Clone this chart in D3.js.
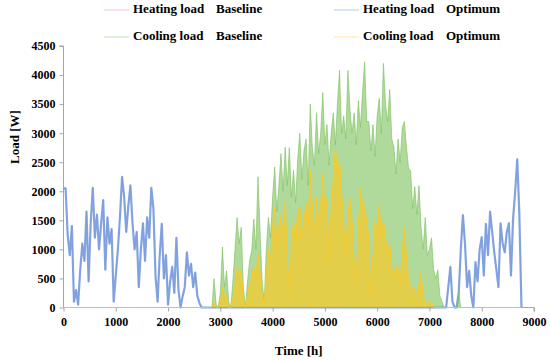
<!DOCTYPE html>
<html>
<head>
<meta charset="utf-8">
<script src="https://cdn.jsdelivr.net/npm/d3@7"></script>
<style>
  body { margin: 0; background: #fff; }
  svg text { font-family: "Liberation Serif", "Times New Roman", serif; font-weight: bold; fill: #000; }
</style>
</head>
<body>
<div id="chart"></div>
<script>
// hourly loads, one value every 40 h
const STEP = 40;

// heating, winter start (from hour 0) and winter end (from hour 7320)
const heatStartA = 0;
const heatOptA = [2050, 2050, 1250, 900, 1400, 100, 300, 50, 650, 1100, 800, 1650, 450, 1450, 2060, 1200,
  1600, 1000, 1450, 1850, 650, 1550, 1100, 1350, 100, 550, 1000, 1550, 2250, 1900, 1300, 1750, 2100, 1450,
  1000, 1300, 350, 1000, 1450, 800, 1550, 1200, 2060, 1700, 550, 100, 900, 1440, 500, 900, 50, 450, 700,
  250, 1200, 300, 0, 200, 350, 950, 550, 750, 350, 600, 200, 80, 0];
const heatStartB = 7320;
const heatOptB = [0, 350, 700, 100, 0, 0, 250, 1000, 1590, 1100, 350, 630, 200, 0, 780, 450, 1000, 1210,
  550, 1440, 900, 1650, 1300, 950, 650, 350, 1450, 1100, 950, 1300, 1450, 550, 1530, 2000, 2550, 1600, 0];
// baseline heating lies under the optimum curve in the figure
const heatBaseA = heatOptA.slice();
const heatBaseB = heatOptB.slice();

// cooling, from hour 2800
const coolStart = 2800;
const coolBase = [0, 0, 500, 50, 0, 250, 1040, 350, 630, 100, 0, 450, 1000, 1550, 1100, 1380, 350, 0, 450,
  800, 980, 1520, 1000, 2250, 1300, 450, 100, 1000, 1550, 1200, 1900, 2420, 1650, 2100, 2650, 2000, 2760,
  2100, 2750, 1900, 2360, 1800, 2550, 3000, 2200, 2700, 2900, 2100, 3500, 2750, 2450, 3350, 2650, 3000,
  3700, 2800, 3150, 2450, 3000, 3350, 2800, 3500, 4080, 3000, 3300, 2900, 4080, 3400, 3000, 3350, 2800,
  3560, 3100, 3700, 4230, 3200, 3200, 2700, 3150, 2600, 3300, 3600, 3000, 4200, 3500, 3200, 3750, 2900,
  2760, 2300, 2900, 2500, 3100, 3200, 2760, 2400, 2350, 1700, 2080, 1600, 2100, 1380, 1000, 1550, 900,
  1000, 1200, 650, 500, 650, 200, 100, 0, 0, 0, 0, 0, 0, 0, 270, 0];
const coolOpt = [0, 0, 100, 0, 0, 100, 350, 150, 250, 0, 0, 150, 400, 700, 500, 650, 150, 0, 200, 400, 500,
  700, 500, 930, 600, 200, 50, 600, 1000, 800, 1400, 1730, 1100, 1400, 1600, 1300, 1840, 900, 200, 1100,
  1500, 1100, 1700, 1730, 1200, 1500, 1800, 1400, 2360, 1800, 1300, 1900, 1500, 1800, 2300, 1700, 1900,
  800, 1700, 2200, 2760, 2300, 2530, 2000, 1500, 900, 1600, 1900, 1500, 800, 450, 1400, 2070, 1800, 1730,
  1500, 1200, 180, 900, 1500, 1380, 1800, 1200, 1500, 1200, 930, 1100, 700, 500, 700, 690, 400, 1000,
  1380, 900, 500, 340, 300, 350, 200, 400, 600, 200, 100, 50, 100, 80, 0];

const yearEnd = 8760;
const xTicks = [0, 1000, 2000, 3000, 4000, 5000, 6000, 7000, 8000, 9000];
const yTicks = [0, 500, 1000, 1500, 2000, 2500, 3000, 3500, 4000, 4500];

const seriesNames = ["Heating load", "Heating load", "Cooling load", "Cooling load"];
const seriesCases = ["Baseline", "Optimum", "Baseline", "Optimum"];
const seriesColors = ["#e377a8", "#5b8ad8", "#7cc05a", "#ffc81e"];

class LoadChart {
  constructor(parentElement) {
    this.parentElement = parentElement;
    this.initVis();
  }

  initVis() {
    let vis = this;

    vis.width = 550;
    vis.height = 360;

    vis.svg = d3.select("#" + vis.parentElement)
      .append("svg")
      .attr("width", vis.width)
      .attr("height", vis.height);

    vis.x = d3.scaleLinear().domain([0, 9000]).range([63.5, 534]);
    vis.y = d3.scaleLinear().domain([0, 4500]).range([307.5, 46]);

    let toPoints = (start, values) => values.map((v, i) => ({ h: start + i * STEP, v: v }));

    vis.heatBase = toPoints(heatStartA, heatBaseA).concat(toPoints(heatStartB, heatBaseB));
    vis.heatOpt = toPoints(heatStartA, heatOptA).concat(toPoints(heatStartB, heatOptB));
    vis.coolBase = [{ h: 0, v: 0 }].concat(toPoints(coolStart, coolBase), [{ h: yearEnd, v: 0 }]);
    vis.coolOpt = [{ h: 0, v: 0 }].concat(toPoints(coolStart, coolOpt), [{ h: yearEnd, v: 0 }]);

    vis.line = d3.line().x(d => vis.x(d.h)).y(d => vis.y(d.v));
    vis.area = d3.area().x(d => vis.x(d.h)).y0(vis.y(0)).y1(d => vis.y(d.v));

    vis.drawAxes();
    vis.drawSeries();
    vis.drawLegend();
  }

  drawAxes() {
    let vis = this;

    let yAxis = d3.axisLeft(vis.y).tickValues(yTicks).tickFormat(d3.format("d")).tickSize(4).tickPadding(4);
    let xAxis = d3.axisBottom(vis.x).tickValues(xTicks).tickFormat(d3.format("d")).tickSize(4).tickPadding(6);

    vis.svg.append("g")
      .attr("class", "axis")
      .attr("transform", "translate(" + vis.x(0) + ",0)")
      .call(yAxis)
      .call(g => g.select(".domain").attr("d", "M-4," + vis.y(4500) + "H0V" + vis.y(0)));

    vis.svg.append("g")
      .attr("class", "axis")
      .attr("transform", "translate(0," + vis.y(0) + ")")
      .call(xAxis)
      .call(g => g.select(".domain").attr("d", "M" + vis.x(0) + ",0H" + vis.x(9000) + "V4"));

    vis.svg.selectAll(".axis")
      .attr("font-family", "'Liberation Serif', serif")
      .attr("font-size", 12);
    vis.svg.selectAll(".axis path, .axis line").attr("stroke", "#a6a6a6");
    vis.svg.selectAll(".axis text")
      .style("font-size", "12px")
      .style("font-family", "'Liberation Serif', serif")
      .style("font-weight", "bold")
      .attr("fill", "#000");

    vis.svg.append("text")
      .attr("x", (vis.x(0) + vis.x(9000)) / 2)
      .attr("y", 352)
      .attr("text-anchor", "middle")
      .attr("dominant-baseline", "middle")
      .style("font-size", "13px")
      .text("Time [h]");

    vis.svg.append("text")
      .attr("transform", "translate(16,137) rotate(-90)")
      .attr("text-anchor", "middle")
      .attr("dominant-baseline", "middle")
      .style("font-size", "13px")
      .text("Load [W]");
  }

  drawSeries() {
    let vis = this;

    let plot = vis.svg.append("g").attr("class", "series");

    // heating (baseline sits hidden under the optimum)
    plot.append("path")
      .datum(vis.heatBase)
      .attr("d", vis.line)
      .attr("fill", "none")
      .attr("stroke", seriesColors[0])
      .attr("stroke-opacity", 0.25)
      .attr("stroke-width", 1);

    plot.append("path")
      .datum(vis.heatOpt)
      .attr("d", vis.line)
      .attr("fill", "none")
      .attr("stroke", seriesColors[1])
      .attr("stroke-opacity", 0.75)
      .attr("stroke-width", 2.2)
      .attr("stroke-linejoin", "round");

    // cooling, baseline then optimum on top
    plot.append("path")
      .datum(vis.coolBase)
      .attr("d", vis.area)
      .attr("fill", seriesColors[2])
      .attr("fill-opacity", 0.6);

    plot.append("path")
      .datum(vis.coolBase)
      .attr("d", vis.line)
      .attr("fill", "none")
      .attr("stroke", seriesColors[2])
      .attr("stroke-opacity", 0.6)
      .attr("stroke-width", 1);

    plot.append("path")
      .datum(vis.coolOpt)
      .attr("d", vis.area)
      .attr("fill", seriesColors[3])
      .attr("fill-opacity", 0.65);

    plot.append("path")
      .datum(vis.coolOpt)
      .attr("d", vis.line)
      .attr("fill", "none")
      .attr("stroke", seriesColors[3])
      .attr("stroke-opacity", 0.8)
      .attr("stroke-width", 1);
  }

  drawLegend() {
    let vis = this;

    let colX = [104, 334];
    let rowY = [10, 37];

    let items = vis.svg.append("g").attr("class", "legend")
      .selectAll("g")
      .data(seriesNames.map((name, i) => ({ name: name, kind: seriesCases[i], color: seriesColors[i], i: i })))
      .enter()
      .append("g")
      .attr("transform", d => "translate(" + colX[d.i % 2] + "," + rowY[Math.floor(d.i / 2)] + ")");

    items.append("line")
      .attr("x1", 0)
      .attr("x2", 25)
      .attr("stroke", d => d.color)
      .attr("stroke-opacity", 0.3)
      .attr("stroke-width", 1.5);

    items.append("text")
      .attr("x", 29)
      .attr("dominant-baseline", "middle")
      .style("font-size", "13px")
      .text(d => d.name);

    items.append("text")
      .attr("x", 112)
      .attr("dominant-baseline", "middle")
      .style("font-size", "13px")
      .text(d => d.kind);
  }
}

new LoadChart("chart");
</script>
</body>
</html>
